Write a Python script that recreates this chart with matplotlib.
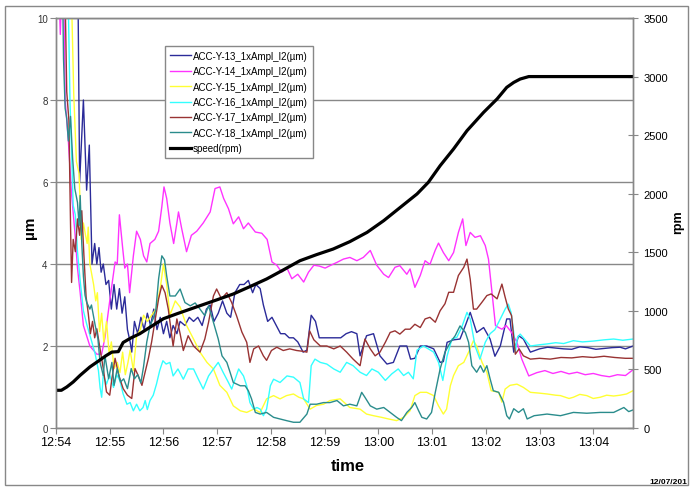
import matplotlib
matplotlib.use('Agg')
import matplotlib.pyplot as plt
import matplotlib.dates as mdates
from matplotlib.patches import Rectangle
from datetime import datetime, timedelta

plt.rcParams['font.family'] = ['Liberation Sans', 'DejaVu Sans']

# ---------------- data (minutes after 12:54, value) ----------------
labels = ['ACC-Y-13_1xAmpl_I2(µm)', 'ACC-Y-14_1xAmpl_I2(µm)', 'ACC-Y-15_1xAmpl_I2(µm)',
          'ACC-Y-16_1xAmpl_I2(µm)', 'ACC-Y-17_1xAmpl_I2(µm)', 'ACC-Y-18_1xAmpl_I2(µm)']

pts13 = [(0.00,15),(0.40,12),(0.44,6.0),(0.51,8.0),(0.57,5.8),(0.62,6.9),(0.67,4.0),(0.72,4.5),(0.76,4.0),
         (0.80,4.4),(0.84,3.8),(0.88,4.0),(0.93,3.5),(0.98,3.6),(1.03,2.9),(1.08,3.5),(1.13,2.9),(1.18,3.4),
         (1.23,2.8),(1.28,3.2),(1.33,2.4),(1.38,2.1),(1.41,1.85),(1.46,2.6),(1.52,2.3),(1.58,2.7),(1.64,2.4),
         (1.70,2.8),(1.76,2.5),(1.82,2.9),(1.88,2.4),(1.94,2.7),(2.00,2.3),(2.06,2.6),(2.12,2.2),(2.18,2.5),
         (2.25,2.3),(2.31,2.6),(2.40,2.5),(2.48,2.7),(2.56,2.6),(2.64,2.7),(2.72,2.5),(2.80,2.9),(2.87,3.0),
         (2.94,2.6),(3.02,2.8),(3.10,3.1),(3.18,2.8),(3.25,2.7),(3.33,3.3),(3.42,3.5),(3.50,3.5),(3.58,3.6),
         (3.66,3.3),(3.72,3.5),(3.80,3.4),(3.86,3.0),(3.94,2.6),(4.02,2.7),(4.10,2.5),(4.18,2.3),(4.26,2.3),
         (4.34,2.2),(4.42,2.2),(4.50,2.1),(4.60,1.85),(4.67,1.9),(4.75,2.75),(4.83,2.6),(4.90,2.2),(5.00,2.2),
         (5.10,2.2),(5.20,2.2),(5.30,2.2),(5.40,2.3),(5.50,2.35),(5.60,2.3),(5.66,1.76),(5.78,2.25),(5.91,2.3),
         (6.03,1.76),(6.16,1.56),(6.28,1.6),(6.40,2.0),(6.53,2.0),(6.60,1.68),(6.68,1.7),(6.78,2.0),(6.90,2.0),
         (7.03,1.93),(7.15,1.6),(7.21,1.62),(7.28,2.09),(7.40,2.15),(7.52,2.17),(7.62,2.5),(7.71,2.82),
         (7.83,2.33),(7.96,2.45),(8.08,2.17),(8.17,1.75),(8.27,2.0),(8.39,2.66),(8.45,2.66),(8.52,1.85),
         (8.61,2.25),(8.70,2.17),(8.83,1.85),(9.00,1.93),(9.15,1.97),(9.30,1.95),(9.45,1.93),(9.60,1.92),
         (9.75,1.98),(9.90,1.96),(10.05,1.92),(10.20,1.94),(10.35,1.96),(10.50,1.97),(10.60,1.93),(10.74,2.0)]

pts14 = [(0.00,15),(0.06,10.5),(0.08,9.6),(0.10,10.5),(0.14,11),(0.17,8.0),(0.23,7.0),(0.29,5.7),(0.35,4.8),
         (0.40,3.9),(0.45,3.3),(0.51,2.5),(0.63,2.0),(0.76,1.8),(0.85,1.8),(0.91,2.2),(1.00,3.1),(1.10,4.05),
         (1.14,4.0),(1.18,5.2),(1.24,4.4),(1.28,3.9),(1.33,4.0),(1.37,3.3),(1.44,4.2),(1.50,4.8),(1.57,4.6),
         (1.63,4.2),(1.69,4.05),(1.75,4.5),(1.84,4.6),(1.91,4.8),(1.97,5.4),(2.01,5.88),(2.06,5.6),(2.12,5.0),
         (2.19,4.5),(2.25,5.0),(2.28,5.27),(2.34,4.86),(2.43,4.3),(2.52,4.7),(2.62,4.8),(2.74,5.0),(2.87,5.27),
         (2.96,5.84),(3.05,5.88),(3.12,5.6),(3.21,5.35),(3.30,4.98),(3.40,5.15),(3.49,4.86),(3.58,5.0),
         (3.71,4.78),(3.83,4.75),(3.93,4.6),(4.02,4.05),(4.11,3.97),(4.20,3.8),(4.30,3.9),(4.39,3.64),
         (4.50,3.75),(4.61,3.56),(4.70,3.8),(4.80,3.97),(4.90,3.95),(5.01,3.9),(5.10,3.96),(5.23,4.04),
         (5.35,4.12),(5.47,4.16),(5.60,4.08),(5.72,4.16),(5.85,4.33),(5.97,3.97),(6.10,3.75),(6.19,3.67),
         (6.31,3.92),(6.40,3.96),(6.53,3.75),(6.59,3.88),(6.68,3.43),(6.78,3.72),(6.87,4.08),(6.96,3.99),
         (7.06,4.34),(7.12,4.51),(7.21,4.28),(7.31,4.08),(7.40,4.28),(7.49,4.77),(7.57,5.1),(7.63,4.45),
         (7.71,4.77),(7.80,4.65),(7.90,4.69),(7.99,4.45),(8.05,4.12),(8.18,2.5),(8.24,2.45),(8.30,2.41),
         (8.38,2.5),(8.48,2.33),(8.58,2.09),(8.67,1.68),(8.80,1.27),(8.95,1.35),(9.10,1.4),(9.25,1.33),
         (9.40,1.38),(9.55,1.32),(9.70,1.36),(9.85,1.3),(10.00,1.33),(10.15,1.28),(10.30,1.25),(10.45,1.3),
         (10.60,1.28),(10.74,1.42)]

pts15 = [(0.00,15),(0.28,11),(0.33,8.15),(0.38,6.5),(0.43,6.2),(0.47,4.6),(0.51,5.0),(0.55,4.7),(0.58,4.5),
         (0.60,4.9),(0.63,4.0),(0.70,3.5),(0.74,3.1),(0.77,3.3),(0.81,2.35),(0.85,2.8),(0.89,2.1),(0.94,2.6),
         (0.99,1.8),(1.03,2.1),(1.08,1.45),(1.14,1.6),(1.19,1.35),(1.24,1.85),(1.29,1.3),(1.34,1.6),(1.38,1.9),
         (1.44,1.4),(1.50,2.25),(1.57,2.4),(1.63,2.75),(1.70,2.6),(1.78,2.75),(1.86,2.9),(1.94,3.4),(2.00,4.0),
         (2.06,3.5),(2.12,2.75),(2.22,3.1),(2.31,2.95),(2.43,2.5),(2.56,2.17),(2.68,1.85),(2.81,1.6),(2.93,1.44),
         (3.05,1.04),(3.18,0.87),(3.30,0.54),(3.43,0.42),(3.55,0.38),(3.68,0.46),(3.80,0.38),(3.92,0.71),
         (4.05,0.79),(4.17,0.71),(4.29,0.79),(4.42,0.83),(4.52,0.75),(4.61,0.71),(4.73,0.46),(4.85,0.55),
         (4.98,0.58),(5.10,0.67),(5.29,0.71),(5.47,0.5),(5.66,0.46),(5.78,0.34),(5.91,0.3),(6.06,0.26),
         (6.19,0.22),(6.34,0.18),(6.47,0.26),(6.59,0.42),(6.68,0.79),(6.78,0.87),(6.90,0.87),(7.03,0.79),
         (7.12,0.54),(7.21,0.34),(7.27,0.46),(7.34,1.03),(7.40,1.28),(7.49,1.52),(7.59,1.6),(7.68,1.85),
         (7.77,2.13),(7.83,2.0),(7.93,1.6),(8.02,1.36),(8.10,0.91),(8.24,0.87),(8.30,0.63),(8.36,0.95),
         (8.45,1.04),(8.58,1.07),(8.70,0.99),(8.83,0.87),(9.00,0.85),(9.14,0.83),(9.30,0.8),(9.39,0.79),
         (9.55,0.72),(9.63,0.75),(9.75,0.82),(9.88,0.79),(10.00,0.72),(10.13,0.75),(10.25,0.8),(10.38,0.78),
         (10.50,0.8),(10.62,0.83),(10.74,0.91)]

pts16 = [(0.00,15),(0.22,11),(0.26,8.0),(0.32,5.43),(0.36,5.2),(0.40,4.3),(0.45,3.59),(0.51,2.86),(0.57,2.54),
         (0.66,2.13),(0.73,1.8),(0.79,1.4),(0.82,0.99),(0.85,0.75),(0.88,1.3),(0.94,1.07),(1.00,1.3),(1.07,0.99),
         (1.13,1.3),(1.19,1.15),(1.25,0.83),(1.32,0.58),(1.38,0.62),(1.44,0.42),(1.50,0.58),(1.56,0.42),
         (1.62,0.5),(1.66,0.67),(1.70,0.45),(1.75,0.67),(1.81,0.8),(1.87,1.07),(1.93,1.4),(1.99,1.64),
         (2.05,1.56),(2.12,1.6),(2.18,1.27),(2.27,1.44),(2.37,1.19),(2.46,1.44),(2.56,1.44),(2.65,1.19),
         (2.74,0.95),(2.84,1.27),(2.93,1.44),(3.02,1.6),(3.11,1.36),(3.21,1.11),(3.27,0.95),(3.40,1.44),
         (3.49,1.27),(3.55,1.03),(3.61,0.62),(3.68,0.46),(3.74,0.5),(3.80,0.46),(3.86,0.3),(3.92,0.46),
         (3.99,1.03),(4.05,1.19),(4.17,1.11),(4.30,1.27),(4.42,1.24),(4.54,1.11),(4.61,0.71),(4.70,0.62),
         (4.75,1.52),(4.82,1.68),(4.92,1.6),(5.04,1.56),(5.17,1.44),(5.29,1.36),(5.41,1.6),(5.53,1.52),
         (5.66,1.36),(5.78,1.28),(5.88,1.44),(6.00,1.36),(6.13,1.16),(6.25,1.32),(6.37,1.44),(6.47,1.28),
         (6.56,1.36),(6.65,1.2),(6.72,1.9),(6.84,2.0),(6.93,1.93),(7.03,1.85),(7.12,1.6),(7.20,1.16),
         (7.28,1.76),(7.37,2.17),(7.46,2.21),(7.55,2.45),(7.65,2.82),(7.71,2.66),(7.80,2.0),(7.89,1.68),
         (7.99,2.09),(8.08,2.3),(8.17,2.4),(8.27,2.66),(8.36,2.9),(8.42,3.02),(8.47,2.82),(8.52,2.33),
         (8.55,1.85),(8.59,2.21),(8.64,2.29),(8.70,2.2),(8.77,2.09),(8.83,2.0),(9.00,2.03),(9.14,2.05),
         (9.30,2.08),(9.45,2.06),(9.63,2.13),(9.80,2.1),(10.00,2.12),(10.20,2.15),(10.38,2.17),(10.55,2.14),
         (10.74,2.17)]

pts17 = [(0.00,15),(0.17,10.5),(0.20,8.2),(0.24,7.5),(0.27,5.0),(0.29,3.55),(0.32,4.6),(0.36,4.3),(0.40,5.1),
         (0.44,4.7),(0.48,5.3),(0.52,4.2),(0.56,3.2),(0.60,2.8),(0.64,2.3),(0.68,2.6),(0.72,2.2),(0.76,2.42),
         (0.82,1.93),(0.88,1.45),(0.94,0.88),(1.00,0.8),(1.04,1.2),(1.10,1.7),(1.17,1.28),(1.25,0.96),
         (1.33,0.8),(1.41,0.72),(1.47,1.45),(1.53,1.28),(1.60,1.04),(1.66,1.37),(1.72,1.7),(1.78,2.1),
         (1.84,2.59),(1.91,3.15),(1.97,3.48),(2.03,3.3),(2.09,2.9),(2.18,2.0),(2.25,2.66),(2.31,2.3),
         (2.37,1.89),(2.46,2.25),(2.56,2.0),(2.68,1.85),(2.77,2.17),(2.84,2.58),(2.93,3.22),(2.99,3.39),
         (3.08,3.15),(3.18,3.3),(3.27,3.06),(3.36,2.74),(3.46,2.34),(3.55,2.09),(3.61,1.6),(3.68,1.93),
         (3.77,2.0),(3.86,1.76),(3.92,1.65),(4.01,1.89),(4.11,1.97),(4.23,1.89),(4.35,1.93),(4.48,1.89),
         (4.60,1.87),(4.67,1.85),(4.72,2.37),(4.80,2.15),(4.92,2.0),(5.04,2.0),(5.17,1.93),(5.29,2.0),
         (5.41,1.85),(5.53,1.68),(5.66,1.52),(5.75,2.17),(5.85,1.93),(5.94,1.76),(6.03,1.85),(6.13,2.09),
         (6.22,2.33),(6.31,2.37),(6.40,2.29),(6.50,2.41),(6.59,2.41),(6.68,2.53),(6.78,2.45),(6.87,2.66),
         (6.96,2.7),(7.06,2.58),(7.15,2.86),(7.24,3.03),(7.31,3.31),(7.40,3.31),(7.49,3.72),(7.59,3.92),
         (7.65,4.12),(7.71,3.63),(7.77,2.9),(7.83,2.9),(7.93,3.07),(8.02,3.23),(8.10,3.27),(8.21,3.15),
         (8.30,3.51),(8.36,3.19),(8.42,2.9),(8.48,2.74),(8.55,1.8),(8.62,1.93),(8.70,1.76),(8.83,1.68),
         (9.00,1.7),(9.20,1.68),(9.40,1.72),(9.60,1.71),(9.80,1.74),(10.00,1.72),(10.20,1.75),(10.40,1.72),
         (10.60,1.7),(10.74,1.7)]

pts18 = [(0.00,15),(0.12,11),(0.14,9.0),(0.17,7.8),(0.20,7.55),(0.23,7.0),(0.27,7.6),(0.31,6.57),(0.35,5.84),
         (0.40,5.5),(0.43,4.94),(0.45,5.67),(0.48,4.5),(0.51,3.7),(0.54,3.24),(0.57,3.07),(0.63,2.9),(0.66,3.0),
         (0.73,2.5),(0.78,2.18),(0.82,1.6),(0.88,1.28),(0.91,1.77),(0.98,1.2),(1.04,1.6),(1.08,1.04),(1.14,1.45),
         (1.20,1.12),(1.26,1.2),(1.33,0.96),(1.40,1.45),(1.46,1.2),(1.52,1.3),(1.58,1.1),(1.63,1.5),(1.69,2.1),
         (1.75,2.5),(1.81,2.67),(1.86,2.9),(1.91,3.64),(1.97,4.2),(2.02,4.1),(2.06,3.71),(2.12,3.22),(2.22,3.22),
         (2.31,3.39),(2.40,3.06),(2.50,2.98),(2.59,3.05),(2.68,2.9),(2.77,2.74),(2.84,2.98),(2.93,2.58),
         (3.02,2.17),(3.09,1.76),(3.18,1.6),(3.24,1.36),(3.30,1.11),(3.43,1.03),(3.52,1.03),(3.58,0.91),
         (3.64,0.71),(3.71,0.38),(3.80,0.34),(3.92,0.38),(4.05,0.26),(4.17,0.22),(4.29,0.18),(4.42,0.14),
         (4.54,0.14),(4.67,0.34),(4.73,0.58),(4.85,0.58),(4.98,0.62),(5.10,0.62),(5.23,0.67),(5.35,0.54),
         (5.47,0.58),(5.60,0.54),(5.69,0.87),(5.75,0.75),(5.85,0.54),(5.97,0.46),(6.10,0.5),(6.22,0.38),
         (6.34,0.26),(6.43,0.18),(6.53,0.38),(6.62,0.5),(6.68,0.62),(6.75,0.42),(6.81,0.26),(6.90,0.22),
         (6.99,0.38),(7.06,0.87),(7.15,1.44),(7.24,1.85),(7.34,2.09),(7.43,2.25),(7.52,2.49),(7.62,2.33),
         (7.68,2.09),(7.74,1.52),(7.83,1.36),(7.90,1.52),(7.96,1.36),(8.02,1.52),(8.08,1.2),(8.14,0.91),
         (8.24,0.87),(8.33,0.63),(8.39,0.3),(8.44,0.22),(8.52,0.47),(8.61,0.38),(8.70,0.47),(8.77,0.22),
         (8.90,0.3),(9.14,0.34),(9.39,0.3),(9.63,0.38),(9.88,0.36),(10.13,0.38),(10.38,0.38),(10.57,0.5),
         (10.66,0.4),(10.74,0.44)]

speed_t = [0, 0.1, 0.2, 0.32, 0.45, 0.63, 0.8, 0.94, 1.04, 1.16, 1.25, 1.4, 1.56, 1.8, 2.0, 2.25, 2.5,
           2.68, 3.0, 3.3, 3.6, 3.92, 4.23, 4.54, 4.85, 5.16, 5.47, 5.79, 6.10, 6.41, 6.72, 6.93, 7.15,
           7.40, 7.65, 7.96, 8.21, 8.39, 8.52, 8.64, 8.80, 10.74]
speed_rpm = [322, 322, 350, 393, 450, 521, 575, 620, 648, 652, 730, 770, 805, 875, 933, 975, 1015,
             1044, 1095, 1144, 1205, 1272, 1349, 1428, 1480, 1528, 1591, 1670, 1770, 1884, 1998, 2097,
             2239, 2382, 2538, 2695, 2809, 2908, 2950, 2979, 3000, 3000]

colors = ['#2B2B99', '#FF33FF', '#FFFF33', '#33FFFF', '#993333', '#2A8C8C']

base = datetime(2012, 7, 12, 12, 54)
t_end = 10.74

def to_time(ts):
    return [base + timedelta(minutes=t) for t in ts]

# ---------------- figure ----------------
W, H = 693, 489
fig = plt.figure(figsize=(W / 100, H / 100), dpi=100)
ax = fig.add_axes([56 / W, 1 - 429 / H, 577 / W, 410 / H])
ax2 = ax.twinx()

for pts, c, lab in zip([pts13, pts14, pts15, pts16, pts17, pts18], colors, labels):
    ts = [p[0] for p in pts]
    vs = [p[1] for p in pts]
    ax.plot(to_time(ts), vs, color=c, lw=1.0, label=lab)

ax2.plot(to_time(speed_t), speed_rpm, color='black', lw=2.3, label='speed(rpm)',
         solid_joinstyle='round')

ax.set_ylim(0, 10)
ax2.set_ylim(0, 3500)
ax.set_xlim(base, base + timedelta(minutes=t_end))

ax.xaxis.set_major_locator(mdates.MinuteLocator())
ax.xaxis.set_major_formatter(mdates.DateFormatter('%H:%M'))
ax.set_yticks([0, 2, 4, 6, 8, 10])
ax2.set_yticks(range(0, 3501, 500))

ax.yaxis.grid(True, color='#888888', lw=1.0)
ax.set_axisbelow(True)

for a in (ax, ax2):
    for s in a.spines.values():
        s.set_color('#888888')
        s.set_linewidth(1.0)

ax.tick_params(axis='x', direction='out', length=4, color='#888888', labelsize=9, pad=2)
ax.tick_params(axis='y', direction='out', length=4, color='#888888', labelsize=7, pad=2, labelcolor='#333333')
ax2.tick_params(axis='y', direction='inout', length=7, color='#888888', labelsize=8, pad=4)

h1, l1 = ax.get_legend_handles_labels()
h2, l2 = ax2.get_legend_handles_labels()
leg = ax2.legend(h1 + h2, l1 + l2, loc='upper left', bbox_to_anchor=((165 - 56) / 577, (429 - 47) / 410),
                 borderaxespad=0, fontsize=7, frameon=True, fancybox=False, framealpha=1,
                 edgecolor='#888888', handlelength=2.2, handletextpad=0.2, labelspacing=0.55,
                 borderpad=0.5)
leg.get_frame().set_linewidth(1.0)

fig.text(30 / W, 1 - 228 / H, 'µm', rotation=90, ha='center', va='center', fontsize=11, fontweight='bold')
fig.text(678 / W, 1 - 222 / H, 'rpm', rotation=90, ha='center', va='center', fontsize=9, fontweight='bold')
fig.text(348 / W, 1 - 467 / H, 'time', ha='center', va='center', fontsize=12, fontweight='bold')
fig.text(687 / W, 1 - 484 / H, '12/07/201', ha='right', va='baseline', fontsize=6, fontweight='bold')

fig.patches.append(Rectangle((5 / W, 1 - 486 / H), 683 / W, 479 / H, transform=fig.transFigure,
                             fill=False, ec='#888888', lw=1.0))

fig.savefig('out.png', dpi=100)
